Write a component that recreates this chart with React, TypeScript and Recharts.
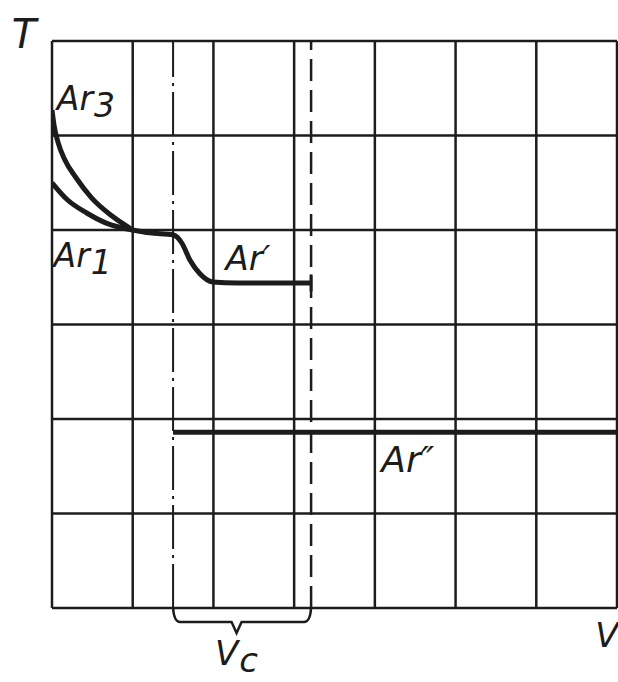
import {
  CartesianGrid,
  Line,
  LineChart,
  ReferenceArea,
  ReferenceDot,
  ReferenceLine,
  XAxis,
  YAxis,
} from 'recharts';

const INK = '#1c1c1c';
const FONT = '"DejaVu Sans", "Liberation Sans", Arial, sans-serif';

// grid divisions on both axes
const V_TICKS = [0, 1, 2, 3, 4, 5, 6, 7];
const T_TICKS = [0, 1, 2, 3, 4, 5, 6];

// critical cooling-rate band
const VC_START = 1.5;
const VC_END = 3.21;

// upper and lower start of transformation
const AR3 = [
  { v: 0, T: 5.27 },
  { v: 0.025, T: 5.11 },
  { v: 0.074, T: 4.93 },
  { v: 0.16, T: 4.74 },
  { v: 0.3, T: 4.55 },
  { v: 0.49, T: 4.34 },
  { v: 0.74, T: 4.15 },
  { v: 1.0, T: 4.0 },
];
const AR1 = [
  { v: 0, T: 4.5 },
  { v: 0.19, T: 4.32 },
  { v: 0.43, T: 4.18 },
  { v: 0.68, T: 4.07 },
  { v: 1.0, T: 4.0 },
];
// merged branch dropping to Ar'
const AR_PRIME = [
  { v: 1.0, T: 4.0 },
  { v: 1.21, T: 3.97 },
  { v: 1.5, T: 3.95 },
  { v: 1.61, T: 3.86 },
  { v: 1.71, T: 3.68 },
  { v: 1.83, T: 3.54 },
  { v: 1.99, T: 3.45 },
  { v: 2.3, T: 3.44 },
  { v: VC_END, T: 3.44 },
];
const AR_DOUBLE = [
  { v: VC_START, T: 1.86 },
  { v: 7, T: 1.86 },
];

// text anchors (left edge, baseline) in chart units
const LABELS = [
  { text: 'T', sub: '', v: -0.5, T: 5.93, size: 40 },
  { text: 'Ar', sub: '3', v: 0.06, T: 5.27, size: 33 },
  { text: 'Ar', sub: '1', v: 0.02, T: 3.61, size: 33 },
  { text: 'Ar′', sub: '', v: 2.15, T: 3.58, size: 34 },
  { text: 'Ar″', sub: '', v: 4.08, T: 1.44, size: 36 },
  { text: 'V', sub: '', v: 6.73, T: -0.41, size: 34 },
  { text: 'V', sub: 'c', v: 2.02, T: -0.6, size: 34 },
];

function Tag({ cx, cy, text, sub, size }: { cx: number; cy: number; text: string; sub: string; size: number }) {
  return (
    <text x={cx} y={cy} fontFamily={FONT} fontStyle="italic" fontSize={size} fill={INK}>
      {text}
      {sub && (
        <tspan dx={1} dy={size * 0.22}>
          {sub}
        </tspan>
      )}
    </text>
  );
}

function Brace({ x, y, width, height }: { x: number; y: number; width: number; height: number }) {
  const mid = x + width * 0.46;
  const r = x + width;
  const h = y + height * 0.56;
  const d = `M${x},${y} Q${x + 1},${h} ${x + 7},${h} L${mid - 5},${h} L${mid},${y + height} L${mid + 5},${h} L${r - 7},${h} Q${r - 1},${h} ${r},${y}`;
  return <path d={d} fill="none" stroke={INK} strokeWidth={2.5} />;
}

export default function App() {
  return (
    <div style={{ position: 'absolute', left: 0, top: 0, background: '#fff' }}>
      <LineChart width={618} height={682} margin={{ top: 41, right: 1, bottom: 74, left: 52 }}>
        <XAxis type="number" dataKey="v" domain={[0, 7]} ticks={V_TICKS} hide allowDataOverflow />
        <YAxis type="number" dataKey="T" domain={[0, 6]} ticks={T_TICKS} hide allowDataOverflow />
        <CartesianGrid stroke={INK} strokeWidth={2.5} strokeOpacity={1} />
        <ReferenceLine x={VC_START} stroke={INK} strokeWidth={2} strokeDasharray="44 6 3 6" />
        <ReferenceLine x={VC_END} stroke={INK} strokeWidth={2.5} strokeDasharray="22 9" />
        <ReferenceLine
          segment={[
            { x: VC_END, y: 3.35 },
            { x: VC_END, y: 3.53 },
          ]}
          stroke={INK}
          strokeWidth={3}
        />
        <Line data={AR3} dataKey="T" type="monotone" stroke={INK} strokeWidth={5} dot={false} isAnimationActive={false} />
        <Line data={AR1} dataKey="T" type="monotone" stroke={INK} strokeWidth={5} dot={false} isAnimationActive={false} />
        <Line data={AR_PRIME} dataKey="T" type="monotone" stroke={INK} strokeWidth={5} dot={false} isAnimationActive={false} />
        <Line data={AR_DOUBLE} dataKey="T" type="linear" stroke={INK} strokeWidth={5} dot={false} isAnimationActive={false} />
        <ReferenceArea
          x1={VC_START}
          x2={VC_END}
          y1={0}
          y2={-0.265}
          ifOverflow="visible"
          shape={(p: any) => <Brace x={p.x} y={p.y} width={p.width} height={p.height} />}
        />
        {LABELS.map((l, i) => (
          <ReferenceDot
            key={i}
            x={l.v}
            y={l.T}
            r={0}
            ifOverflow="visible"
            shape={(p: any) => <Tag cx={p.cx} cy={p.cy} text={l.text} sub={l.sub} size={l.size} />}
          />
        ))}
      </LineChart>
    </div>
  );
}
